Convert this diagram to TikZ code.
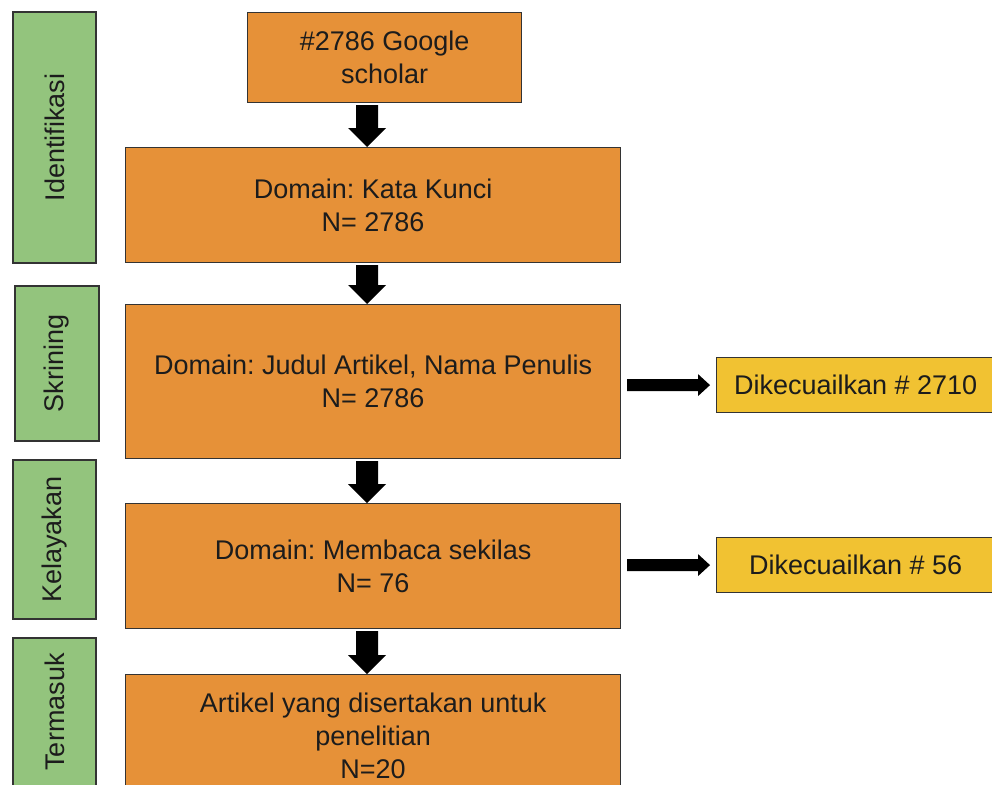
\documentclass[tikz,border=0pt]{standalone}
\usepackage{fontspec}
\setmainfont{Liberation Sans}
\usetikzlibrary{calc}
\definecolor{gfill}{HTML}{93C47D}
\definecolor{ofill}{HTML}{E69138}
\definecolor{yfill}{HTML}{F1C232}
\definecolor{edge}{HTML}{333333}
\definecolor{ink}{HTML}{1C1C1C}
\frenchspacing
% vertical block arrow from the bottom of #1 to the top of #2, on the axis (ax)
\newcommand\vArrow[2]{\fill[arr] let \p1=(#1.south -| ax), \p2=(#2.north -| ax) in
  (\x1-11,\y1-2) -- (\x1+11,\y1-2) -- (\x1+11,\y2+19) -- (\x1+19,\y2+19) -- (\x2,\y2)
  -- (\x1-19,\y2+19) -- (\x1-11,\y2+19) -- cycle;}
% horizontal block arrow from the right side of #1 to the left side of #2
\newcommand\hArrow[2]{\fill[arr] let \p1=(#1.east |- #2.west), \p2=(#2.west) in
  (\x1+6,\y2-6) -- (\x2-18,\y2-6) -- (\x2-18,\y2-11) -- (\x2-6,\y2)
  -- (\x2-18,\y2+11) -- (\x2-18,\y2+6) -- (\x1+6,\y2+6) -- cycle;}
\begin{document}
\begin{tikzpicture}[x=1pt,y=-1pt,
  box/.style={draw=edge, line width=1.2pt, text=ink,
    font=\fontsize{27}{33}\selectfont, align=center, inner sep=0pt},
  phase/.style={box, fill=gfill, rotate=90, anchor=center},
  stepbox/.style={box, fill=ofill, anchor=north west},
  excl/.style={box, fill=yfill, anchor=north west},
  arr/.style={fill=black}]
\clip (0,0) rectangle (992,784);
\fill[white] (0,0) rectangle (992,784);
% phases
\node[phase, minimum width=251pt, minimum height=83pt] (p1) at (54.5,137.5) {Identifikasi};
\node[phase, minimum width=155pt, minimum height=84pt] (p2) at (57,363.5) {Skrining};
\node[phase, minimum width=159pt, minimum height=83pt] (p3) at (54.5,539.5) {Kelayakan};
\node[phase, minimum width=148pt, minimum height=83pt] (p4) at (54.5,712) {Termasuk};
% steps
\node[stepbox, minimum width=274pt, minimum height=90pt] (s0) at (247,12) {\#2786 Google\\scholar};
\node[stepbox, minimum width=495pt, minimum height=115pt] (s1) at (125,147) {Domain: Kata Kunci\\N= 2786};
\node[stepbox, minimum width=495pt, minimum height=154pt] (s2) at (125,304) {Domain: Judul Artikel, Nama Penulis\\N= 2786};
\node[stepbox, minimum width=495pt, minimum height=125pt] (s3) at (125,503) {Domain: Membaca sekilas\\N= 76};
\node[stepbox, minimum width=495pt, minimum height=122pt] (s4) at (125,674) {Artikel yang disertakan untuk\\penelitian\\N=20};
% exclusions
\node[excl, minimum width=278pt, minimum height=55pt] (e1) at (716,357) {Dikecuailkan \# 2710};
\node[excl, minimum width=278pt, minimum height=55pt] (e2) at (716,537) {Dikecuailkan \# 56};
% arrows
\coordinate (ax) at (367,0);
\vArrow{s0}{s1}
\vArrow{s1}{s2}
\vArrow{s2}{s3}
\vArrow{s3}{s4}
\hArrow{s2}{e1}
\hArrow{s3}{e2}
\end{tikzpicture}
\end{document}
